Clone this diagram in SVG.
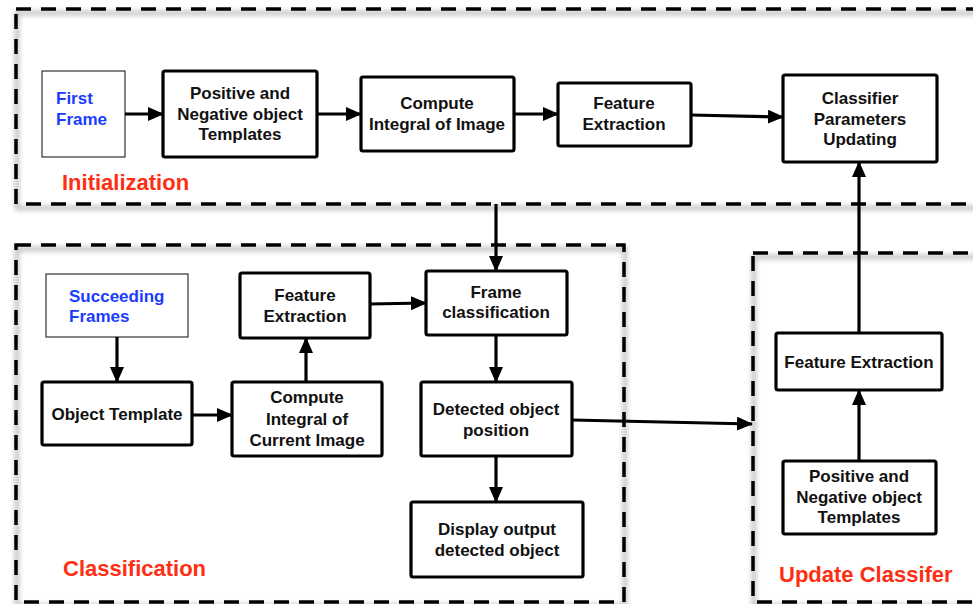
<svg xmlns="http://www.w3.org/2000/svg" width="973" height="604" viewBox="0 0 973 604">
  <defs>
    <filter id="soft" x="-10%" y="-10%" width="120%" height="120%">
      <feGaussianBlur stdDeviation="2.5"/>
    </filter>
    <marker id="head" viewBox="0 0 16 14" refX="15" refY="7" markerWidth="16" markerHeight="14" markerUnits="userSpaceOnUse" orient="auto">
      <path d="M0,0 L16,7 L0,14 Z" fill="#000"/>
    </marker>
    <style>
      .region { fill: none; stroke: #000; stroke-width: 3.5; stroke-dasharray: 15 10; }
      .region-shadow { fill: none; stroke: #666; stroke-width: 4; opacity: 0.45; filter: url(#soft); }
      .box { fill: #fff; stroke: #000; stroke-width: 3.2; }
      .src { fill: #fff; stroke: #333; stroke-width: 1.2; }
      .lbl { font-family: "Liberation Sans", Arial, sans-serif; font-weight: bold; font-size: 17px; fill: #111; text-anchor: middle; }
      .blue { font-family: "Liberation Sans", Arial, sans-serif; font-weight: bold; font-size: 17px; fill: #1a3cff; }
      .title { font-family: "Liberation Sans", Arial, sans-serif; font-weight: bold; font-size: 22px; fill: #ff2d12; }
      .edge { fill: none; stroke: #000; stroke-width: 3.2; marker-end: url(#head); }
    </style>
  </defs>

  <rect width="973" height="604" fill="#fff"/>

  <!-- region frames with soft drop shadows -->
  <g id="regions">
    <rect class="region-shadow" x="17" y="13" width="990" height="195"/>
    <rect class="region-shadow" x="17" y="249" width="608" height="357"/>
    <rect class="region-shadow" x="754" y="257" width="260" height="349"/>
    <rect class="region" x="16" y="9" width="990" height="195"/>
    <rect class="region" x="16" y="245" width="608" height="357"/>
    <rect class="region" x="753" y="253" width="260" height="349"/>
    <text class="title" x="62" y="190">Initialization</text>
    <text class="title" x="63" y="576">Classification</text>
    <text class="title" x="779" y="582">Update Classifer</text>
  </g>

  <!-- initialization row -->
  <g id="first-frame">
    <rect class="src" x="42" y="71" width="83" height="86"/>
    <text class="blue"><tspan x="56" y="104">First</tspan><tspan x="56" y="125">Frame</tspan></text>
  </g>
  <g id="init-templates">
    <rect class="box" x="163" y="71" width="154" height="86" rx="2"/>
    <text class="lbl"><tspan x="240" y="99">Positive and</tspan><tspan x="240" y="120">Negative object</tspan><tspan x="240" y="140">Templates</tspan></text>
  </g>
  <g id="init-integral">
    <rect class="box" x="361" y="77" width="153" height="74" rx="2"/>
    <text class="lbl"><tspan x="437" y="109">Compute</tspan><tspan x="437" y="130">Integral of Image</tspan></text>
  </g>
  <g id="init-features">
    <rect class="box" x="558" y="83" width="133" height="63" rx="2"/>
    <text class="lbl"><tspan x="624" y="109">Feature</tspan><tspan x="624" y="130">Extraction</tspan></text>
  </g>
  <g id="classifier-update">
    <rect class="box" x="783" y="75" width="154" height="87" rx="2"/>
    <text class="lbl"><tspan x="860" y="104">Classifier</tspan><tspan x="860" y="125">Parameters</tspan><tspan x="860" y="145">Updating</tspan></text>
  </g>

  <!-- classification stage -->
  <g id="succeeding-frames">
    <rect class="src" x="46" y="274" width="142" height="63"/>
    <text class="blue"><tspan x="69" y="302">Succeeding</tspan><tspan x="69" y="322">Frames</tspan></text>
  </g>
  <g id="object-template">
    <rect class="box" x="42" y="382" width="150" height="63" rx="2"/>
    <text class="lbl" x="117" y="420">Object Template</text>
  </g>
  <g id="current-integral">
    <rect class="box" x="232" y="382" width="150" height="74" rx="2"/>
    <text class="lbl"><tspan x="307" y="403">Compute</tspan><tspan x="307" y="425">Integral of</tspan><tspan x="307" y="446">Current Image</tspan></text>
  </g>
  <g id="current-features">
    <rect class="box" x="240" y="273" width="130" height="65" rx="2"/>
    <text class="lbl"><tspan x="305" y="301">Feature</tspan><tspan x="305" y="322">Extraction</tspan></text>
  </g>
  <g id="frame-classification">
    <rect class="box" x="426" y="271" width="141" height="64" rx="2"/>
    <text class="lbl"><tspan x="496" y="298">Frame</tspan><tspan x="496" y="318">classification</tspan></text>
  </g>
  <g id="detected-position">
    <rect class="box" x="421" y="382" width="151" height="74" rx="2"/>
    <text class="lbl"><tspan x="496" y="415">Detected object</tspan><tspan x="496" y="436">position</tspan></text>
  </g>
  <g id="display-output">
    <rect class="box" x="411" y="502" width="172" height="75" rx="2"/>
    <text class="lbl"><tspan x="497" y="535">Display output</tspan><tspan x="497" y="556">detected object</tspan></text>
  </g>

  <!-- update stage -->
  <g id="update-features">
    <rect class="box" x="776" y="333" width="166" height="57" rx="2"/>
    <text class="lbl" x="859" y="368">Feature Extraction</text>
  </g>
  <g id="update-templates">
    <rect class="box" x="783" y="461" width="153" height="73" rx="2"/>
    <text class="lbl"><tspan x="859" y="482">Positive and</tspan><tspan x="859" y="503">Negative object</tspan><tspan x="859" y="523">Templates</tspan></text>
  </g>

  <!-- connectors -->
  <g id="connectors">
    <line class="edge" x1="125" y1="114" x2="163" y2="114"/>
    <line class="edge" x1="317" y1="114" x2="361" y2="114"/>
    <line class="edge" x1="514" y1="114" x2="558" y2="114"/>
    <line class="edge" x1="691" y1="115" x2="783" y2="117"/>
    <line class="edge" x1="496" y1="204" x2="496" y2="271"/>
    <line class="edge" x1="117" y1="337" x2="117" y2="382"/>
    <line class="edge" x1="192" y1="415" x2="232" y2="415"/>
    <line class="edge" x1="306" y1="382" x2="306" y2="338"/>
    <line class="edge" x1="370" y1="304" x2="426" y2="303"/>
    <line class="edge" x1="496" y1="335" x2="496" y2="382"/>
    <line class="edge" x1="496" y1="456" x2="496" y2="502"/>
    <line class="edge" x1="572" y1="420" x2="752" y2="424"/>
    <line class="edge" x1="859" y1="461" x2="859" y2="390"/>
    <line class="edge" x1="859" y1="333" x2="859" y2="162"/>
  </g>
</svg>
